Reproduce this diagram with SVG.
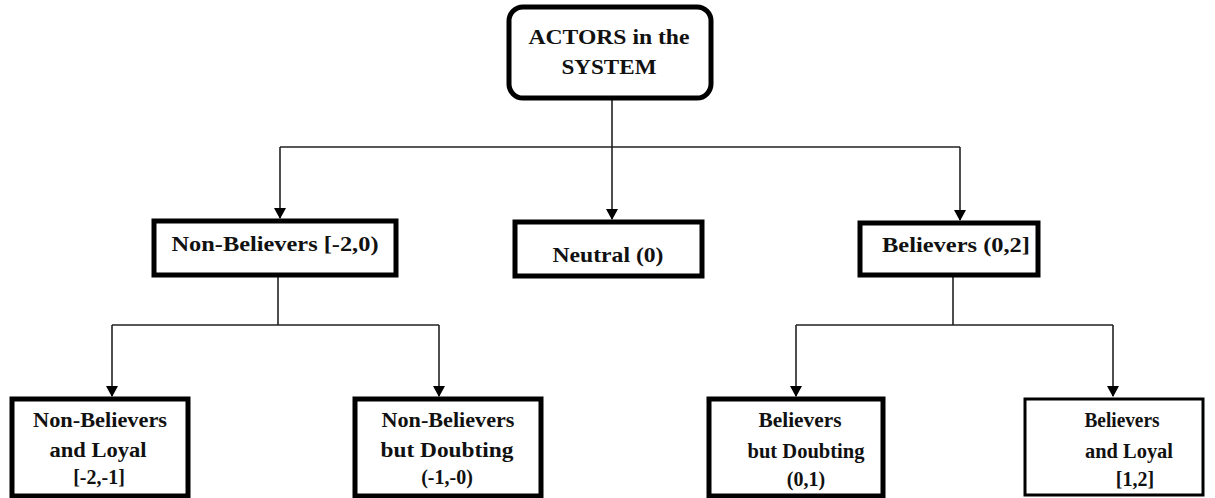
<svg xmlns="http://www.w3.org/2000/svg" width="1215" height="498" viewBox="0 0 1215 498">
<style>
.box{fill:#fff;stroke:#000;stroke-width:5}
.thin{stroke-width:3}
.t{font-family:"Liberation Serif","Times New Roman",serif;font-weight:bold;font-size:20px;fill:#111;text-anchor:middle}
.big{font-size:22px}
.mid{font-size:21px}
.c{fill:none;stroke:#222;stroke-width:1.6}
</style>
<defs>
<marker id="ah" markerWidth="12" markerHeight="12" refX="10" refY="6" orient="auto" markerUnits="userSpaceOnUse" viewBox="0 0 12 12">
<path d="M0,0 L11,6 L0,12 Z" fill="#000"/>
</marker>
</defs>
<g id="connectors">
<path class="c" d="M612,100 V147 M280,147 H960"/>
<path class="c" d="M280,147 V218" marker-end="url(#ah)"/>
<path class="c" d="M612,147 V219" marker-end="url(#ah)"/>
<path class="c" d="M960,147 V220" marker-end="url(#ah)"/>
<path class="c" d="M278,277 V325 M112,325 H439"/>
<path class="c" d="M112,325 V396" marker-end="url(#ah)"/>
<path class="c" d="M439,325 V396" marker-end="url(#ah)"/>
<path class="c" d="M953,277 V325 M796,325 H1113"/>
<path class="c" d="M796,325 V396" marker-end="url(#ah)"/>
<path class="c" d="M1113,325 V396" marker-end="url(#ah)"/>
</g>
<g id="actors">
<rect class="box" x="509" y="7" width="202" height="91" rx="14"/>
<text class="t big" x="609" y="44" textLength="161" lengthAdjust="spacingAndGlyphs">ACTORS in the</text>
<text class="t big" x="609" y="74" textLength="95" lengthAdjust="spacingAndGlyphs">SYSTEM</text>
</g>
<g id="non-believers">
<rect class="box" x="154" y="221" width="242" height="54"/>
<text class="t mid" x="275" y="251" textLength="207" lengthAdjust="spacingAndGlyphs">Non-Believers [-2,0)</text>
</g>
<g id="neutral">
<rect class="box" x="515" y="222" width="187" height="54"/>
<text class="t mid" x="608" y="262" textLength="111" lengthAdjust="spacingAndGlyphs">Neutral (0)</text>
</g>
<g id="believers">
<rect class="box" x="860" y="223" width="178" height="52"/>
<text class="t" x="956" y="252" textLength="148" lengthAdjust="spacingAndGlyphs">Believers (0,2]</text>
</g>
<g id="nb-loyal">
<rect class="box" x="12" y="399" width="176" height="97"/>
<text class="t" x="100" y="427" textLength="134" lengthAdjust="spacingAndGlyphs">Non-Believers</text>
<text class="t" x="98" y="457" textLength="97" lengthAdjust="spacingAndGlyphs">and Loyal</text>
<text class="t" x="99" y="484">[-2,-1]</text>
</g>
<g id="nb-doubting">
<rect class="box" x="355" y="399" width="186" height="97"/>
<text class="t" x="448" y="427" textLength="133" lengthAdjust="spacingAndGlyphs">Non-Believers</text>
<text class="t" x="447" y="457" textLength="133" lengthAdjust="spacingAndGlyphs">but Doubting</text>
<text class="t" x="447" y="484">(-1,-0)</text>
</g>
<g id="b-doubting">
<rect class="box" x="709" y="399" width="174" height="97"/>
<text class="t" x="800" y="427" textLength="83" lengthAdjust="spacingAndGlyphs">Believers</text>
<text class="t" x="806" y="458" textLength="117" lengthAdjust="spacingAndGlyphs">but Doubting</text>
<text class="t" x="806" y="486">(0,1)</text>
</g>
<g id="b-loyal">
<rect class="box thin" x="1025" y="399" width="178" height="96"/>
<text class="t" x="1122" y="427" textLength="75" lengthAdjust="spacingAndGlyphs">Believers</text>
<text class="t" x="1129" y="458" textLength="88" lengthAdjust="spacingAndGlyphs">and Loyal</text>
<text class="t" x="1135" y="486">[1,2]</text>
</g>
</svg>
